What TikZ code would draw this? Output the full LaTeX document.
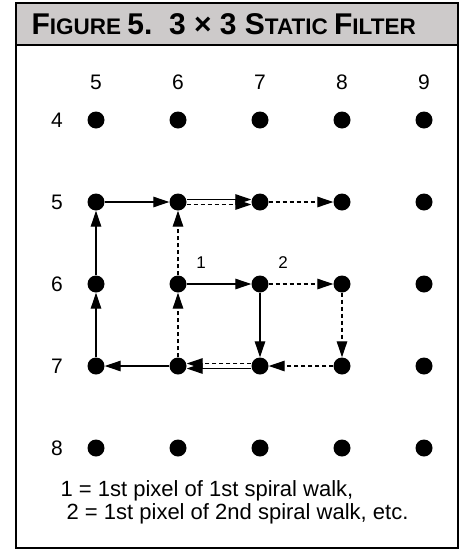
\documentclass[tikz,border=0pt]{standalone}
\usepackage{fontspec}
\setmainfont{Liberation Sans}
\usetikzlibrary{arrows.meta,positioning}
\definecolor{headgray}{RGB}{205,202,202}

\begin{document}
\begin{tikzpicture}
[x=1pt,y=-1pt,
dot/.style={circle,fill=black,inner sep=0pt,minimum size=17pt},
axis/.style={font=\fontsize{21}{21}\selectfont},
walk/.style={-{Triangle[length=16pt,width=10.5pt]},line width=1.3pt},
walktwo/.style={walk,dashed,dash pattern=on 4pt off 3pt},
idx/.style={font=\fontsize{17}{17}\selectfont}]
\useasboundingbox (0,0) rectangle (474,552);
% frame and header
\fill[headgray] (16,3) rectangle (458,45);
\draw[line width=2pt] (16,3) rectangle (458,548);
\draw[line width=2pt] (16,45) -- (458,45);
\node[anchor=west,font=\bfseries] (title) at (28,24)
  {\fontsize{30}{30}\selectfont F\fontsize{22.5}{22.5}\selectfont IGURE
   \fontsize{30}{30}\selectfont 5.\ \ 3 × 3 S\fontsize{22.5}{22.5}\selectfont TATIC
   \fontsize{30}{30}\selectfont F\fontsize{22.5}{22.5}\selectfont ILTER};
% grid of pixels
\foreach \c in {5,...,9} {
  \node[axis] (col\c) at ({96+(\c-5)*82},82) {\c};
  \foreach \r in {4,...,8}
    \node[dot] (p\c\r) at ({96+(\c-5)*82},{120+(\r-4)*82}) {};
}
\foreach \r in {4,...,8}
  \node[axis] (row\r) at (57,{120+(\r-4)*82}) {\r};
% 1st spiral walk
\draw[walk] (p66) -- (p76);
\draw[walk] (p76) -- (p77);
\draw[walk] ([yshift=-2.5pt]p77.west) -- ([yshift=-2.5pt]p67.east);
\draw[walk] (p67) -- (p57);
\draw[walk] (p57) -- (p56);
\draw[walk] (p56) -- (p55);
\draw[walk] (p55) -- (p65);
\draw[walk] ([yshift=2.5pt]p65.east) -- ([yshift=2.5pt]p75.west);
% 2nd spiral walk
\draw[walktwo] (p76) -- (p86);
\draw[walktwo] (p86) -- (p87);
\draw[walktwo] (p87) -- (p77);
\draw[walktwo] ([yshift=2.5pt]p77.west) -- ([yshift=2.5pt]p67.east);
\draw[walktwo] (p67) -- (p66);
\draw[walktwo] (p66) -- (p65);
\draw[walktwo] ([yshift=-2.5pt]p65.east) -- ([yshift=-2.5pt]p75.west);
\draw[walktwo] (p75) -- (p85);
\node[idx] (first) at (201,263) {1};
\node[idx] (second) at (283,263) {2};
% key
\node[anchor=north west,align=left,font=\fontsize{22}{23}\selectfont] (key) at (57,477)
  {1 = 1st pixel of 1st spiral walk,\\ \ 2 = 1st pixel of 2nd spiral walk, etc.};
\end{tikzpicture}
\end{document}
